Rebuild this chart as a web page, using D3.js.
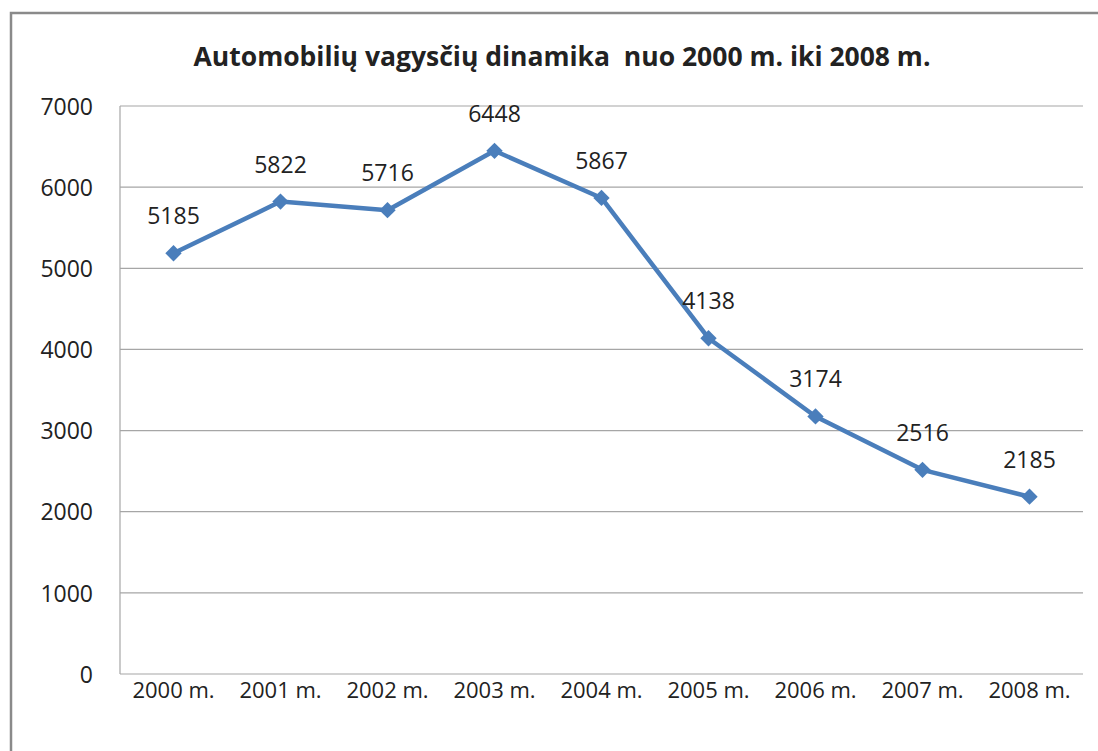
<!DOCTYPE html>
<html>
<head>
<meta charset="UTF-8">
<title>Automobilių vagysčių dinamika</title>
<script src="https://cdnjs.cloudflare.com/ajax/libs/d3/7.8.5/d3.min.js"></script>
<style>
	body { margin: 0; background: #fff; }
	text { font-family: "Open Sans", Lato, sans-serif; fill: #222; }
</style>
</head>
<body>
<script>
// chart data
var years = ["2000 m.", "2001 m.", "2002 m.", "2003 m.", "2004 m.", "2005 m.", "2006 m.", "2007 m.", "2008 m."];
var thefts = [5185, 5822, 5716, 6448, 5867, 4138, 3174, 2516, 2185];
var yTicks = [0, 1000, 2000, 3000, 4000, 5000, 6000, 7000];
var title = "Automobilių vagysčių dinamika\u00a0 nuo 2000 m. iki 2008 m.";

var width = 1098, height = 751;
var plot = {left: 120, right: 1083, top: 106, bottom: 674};

var svg = d3.select("body").append("svg")
	.attr("width", width)
	.attr("height", height);

// outer frame (only top + left visible in the crop)
svg.append("path")
	.attr("d", "M11,751 V13 H1098")
	.attr("fill", "none")
	.attr("stroke", "#8a8a8a")
	.attr("stroke-width", 2.5);

var x = d3.scaleBand().domain(years).range([plot.left, plot.right]);
var y = d3.scaleLinear().domain([0, 7000]).range([plot.bottom, plot.top]);

// gridlines
svg.append("g")
	.selectAll("line")
	.data(yTicks)
	.join("line")
	.attr("x1", plot.left)
	.attr("x2", plot.right)
	.attr("y1", function(d) { return y(d); })
	.attr("y2", function(d) { return y(d); })
	.attr("stroke", "#a6a6a6")
	.attr("stroke-width", 1.2);

// left axis line
svg.append("line")
	.attr("x1", plot.left).attr("x2", plot.left)
	.attr("y1", plot.top).attr("y2", plot.bottom)
	.attr("stroke", "#a6a6a6")
	.attr("stroke-width", 1.2);

// y labels
var yAxis = svg.append("g")
	.attr("transform", "translate(" + (plot.left - 27) + ",0)")
	.call(d3.axisLeft(y).tickValues(yTicks).tickFormat(d3.format("d")).tickSize(0).tickPadding(0));
yAxis.select(".domain").remove();
yAxis.selectAll("text")
	.style("font-size", "23px")
	.style("font-family", "'Open Sans', sans-serif")
	.attr("dy", "0.36em")
	.attr("fill", "#222");

// x labels
var xAxis = svg.append("g")
	.attr("transform", "translate(0," + plot.bottom + ")")
	.call(d3.axisBottom(x).tickSize(0).tickPadding(0));
xAxis.select(".domain").remove();
xAxis.selectAll("text")
	.style("font-size", "22px")
	.style("font-family", "'Open Sans', sans-serif")
	.attr("dy", "0")
	.attr("y", 24)
	.attr("fill", "#222");

// title
svg.append("text")
	.attr("x", 562)
	.attr("y", 66)
	.attr("text-anchor", "middle")
	.style("font-size", "26.5px")
	.style("font-weight", "bold")
	.attr("fill", "#111")
	.text(title);

function cx(d, i) { return x(years[i]) + x.bandwidth() / 2; }

var line = d3.line()
	.x(function(d, i) { return cx(d, i); })
	.y(function(d) { return y(d); });

svg.append("path")
	.datum(thefts)
	.attr("d", line)
	.attr("fill", "none")
	.attr("stroke", "#4a7ebb")
	.attr("stroke-width", 4.5)
	.attr("stroke-linejoin", "round");

var diamond = d3.symbol().type(d3.symbolDiamond2).size(170);
svg.append("g")
	.selectAll("path")
	.data(thefts)
	.join("path")
	.attr("d", diamond)
	.attr("transform", function(d, i) { return "translate(" + cx(d, i) + "," + y(d) + ")"; })
	.attr("fill", "#4a7ebb");

// value labels
svg.append("g")
	.selectAll("text")
	.data(thefts)
	.join("text")
	.attr("x", function(d, i) { return cx(d, i); })
	.attr("y", function(d) { return y(d) - 29; })
	.attr("text-anchor", "middle")
	.style("font-size", "23px")
	.text(function(d) { return d; });
</script>
</body>
</html>
